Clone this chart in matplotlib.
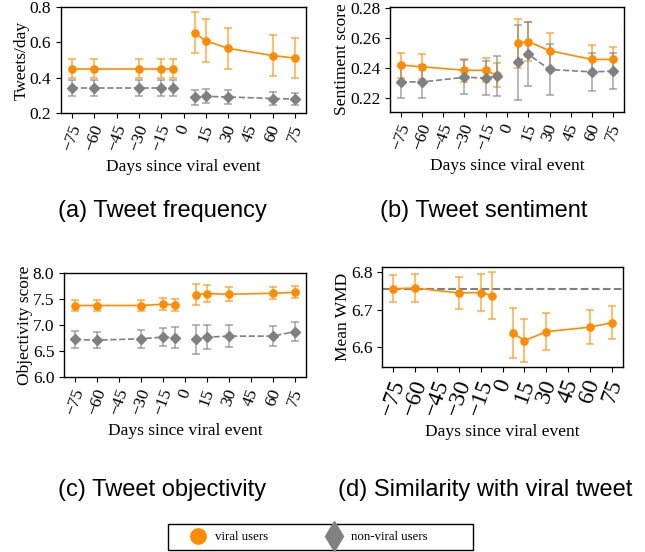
import matplotlib
matplotlib.use("Agg")
import matplotlib.pyplot as plt
from matplotlib.lines import Line2D
from matplotlib.patches import Rectangle

plt.rcParams["font.family"] = ["Liberation Serif", "DejaVu Serif"]
plt.rcParams["font.size"] = 12.5

# days relative to the viral event
days_pre = [-75, -60, -30, -15, -7]
days_post = [7.5, 15, 30, 60, 75]
xticks = list(range(-75, 76, 15))

# (a) tweet frequency
freq_viral_pre = [0.451, 0.451, 0.451, 0.451, 0.451]
freq_viral_pre_err = [0.053, 0.053, 0.053, 0.053, 0.053]
freq_viral_post = [0.653, 0.609, 0.566, 0.525, 0.511]
freq_viral_post_err = [0.116, 0.121, 0.115, 0.116, 0.115]
freq_non_pre = [0.341, 0.341, 0.341, 0.341, 0.341]
freq_non_pre_err = [0.047, 0.047, 0.047, 0.047, 0.047]
freq_non_post = [0.288, 0.294, 0.291, 0.282, 0.279]
freq_non_post_err = [0.040, 0.040, 0.040, 0.038, 0.036]

# (b) tweet sentiment
sent_viral_pre = [0.2418, 0.2407, 0.2384, 0.2383, 0.2350]
sent_viral_pre_err = [0.0083, 0.0084, 0.0077, 0.0080, 0.0080]
sent_viral_post = [0.2563, 0.2575, 0.2514, 0.2456, 0.2456]
sent_viral_post_err = [0.0163, 0.0132, 0.0117, 0.0096, 0.0086]
sent_non_pre = [0.2306, 0.2306, 0.2337, 0.2332, 0.2346]
sent_non_pre_err = [0.0108, 0.0110, 0.0112, 0.0116, 0.0135]
sent_non_post = [0.2436, 0.2490, 0.2389, 0.2373, 0.2378]
sent_non_post_err = [0.0252, 0.0212, 0.0168, 0.0125, 0.0118]

# (c) tweet objectivity
obj_viral_pre = [7.375, 7.375, 7.375, 7.400, 7.393]
obj_viral_pre_err = [0.112, 0.112, 0.112, 0.118, 0.115]
obj_viral_post = [7.585, 7.604, 7.591, 7.610, 7.629]
obj_viral_post_err = [0.198, 0.166, 0.138, 0.115, 0.112]
obj_non_pre = [6.722, 6.709, 6.735, 6.767, 6.754]
obj_non_pre_err = [0.167, 0.160, 0.169, 0.176, 0.204]
obj_non_post = [6.722, 6.767, 6.786, 6.786, 6.875]
obj_non_post_err = [0.281, 0.233, 0.211, 0.186, 0.176]

# (d) similarity with viral tweet (mean WMD)
wmd_pre = [6.756, 6.758, 6.745, 6.746, 6.738]
wmd_pre_err = [0.036, 0.037, 0.042, 0.050, 0.062]
wmd_post = [6.638, 6.618, 6.642, 6.654, 6.666]
wmd_post_err = [0.067, 0.058, 0.049, 0.045, 0.044]
wmd_viral_tweet = 6.756

orange = "#ff8c00"
grey = "#808080"

fig = plt.figure(figsize=(6.45, 5.52), dpi=100)
W, H = 645, 552


def add_ax(l, t, r, b):
    return fig.add_axes([l / W, 1 - b / H, (r - l) / W, (b - t) / H])


def series(ax, x, y, err, color, marker, ms, ls):
    ax.errorbar(x, y, yerr=err, color=color, marker=marker, ms=ms, ls=ls, lw=1.2,
                elinewidth=1.3, capsize=3, capthick=1.3, ecolor=color)
    for c in ax.containers[-1][2]:
        c.set_alpha(0.6)
    for c in ax.containers[-1][1]:
        c.set_alpha(0.6)


def both(ax, vpre, vpre_e, vpost, vpost_e, npre=None, npre_e=None, npost=None, npost_e=None):
    series(ax, days_pre, vpre, vpre_e, orange, "o", 5.2, "-")
    series(ax, days_post, vpost, vpost_e, orange, "o", 5.2, "-")
    if npre is not None:
        series(ax, days_pre, npre, npre_e, grey, "D", 4.8, "--")
        series(ax, days_post, npost, npost_e, grey, "D", 4.8, "--")


def style(ax, ylabel, xtick_size=12.5):
    ax.set_xticks(xticks)
    ax.set_xlim(-82.5, 82.5)
    ax.tick_params(axis="x", labelrotation=70, labelsize=xtick_size)
    ax.set_ylabel(ylabel, labelpad=0)
    ax.set_xlabel("Days since viral event")
    for s in ax.spines.values():
        s.set_linewidth(1.0)


ax_a = add_ax(61, 7, 306, 113)
both(ax_a, freq_viral_pre, freq_viral_pre_err, freq_viral_post, freq_viral_post_err,
     freq_non_pre, freq_non_pre_err, freq_non_post, freq_non_post_err)
ax_a.set_ylim(0.2, 0.8)
ax_a.set_yticks([0.2, 0.4, 0.6, 0.8])
style(ax_a, "Tweets/day")

ax_b = add_ax(390, 7, 624, 112)
both(ax_b, sent_viral_pre, sent_viral_pre_err, sent_viral_post, sent_viral_post_err,
     sent_non_pre, sent_non_pre_err, sent_non_post, sent_non_post_err)
ax_b.set_ylim(0.2106, 0.2805)
ax_b.set_yticks([0.22, 0.24, 0.26, 0.28])
style(ax_b, "Sentiment score")

ax_c = add_ax(64, 273, 306, 377)
both(ax_c, obj_viral_pre, obj_viral_pre_err, obj_viral_post, obj_viral_post_err,
     obj_non_pre, obj_non_pre_err, obj_non_post, obj_non_post_err)
ax_c.set_ylim(6.0, 8.0)
ax_c.set_yticks([6.0, 6.5, 7.0, 7.5, 8.0])
style(ax_c, "Objectivity score")

ax_d = add_ax(382, 267, 623, 367)
both(ax_d, wmd_pre, wmd_pre_err, wmd_post, wmd_post_err)
ax_d.axhline(wmd_viral_tweet, color=grey, ls="--", lw=1.5, zorder=0)
ax_d.set_ylim(6.548, 6.814)
ax_d.set_yticks([6.6, 6.7, 6.8])
style(ax_d, "Mean WMD", xtick_size=17)

cap = dict(family=["Liberation Sans", "DejaVu Sans"], fontsize=17, ha="center", va="center")
fig.text(162 / W, 1 - 211 / H, "(a) Tweet frequency", **cap)
fig.text(484 / W, 1 - 211 / H, "(b) Tweet sentiment", **cap)
fig.text(162 / W, 1 - 490 / H, "(c) Tweet objectivity", **cap)
fig.text(485 / W, 1 - 490 / H, "(d) Similarity with viral tweet", **cap)

# legend box
fig.patches.append(Rectangle((168 / W, 1 - 550 / H), 305 / W, 26 / H, transform=fig.transFigure,
                             fill=False, edgecolor="black", lw=1.0))
handles = [
    Line2D([], [], color=orange, marker="o", ms=11, ls="none"),
    Line2D([], [], color=grey, marker="d", ms=15, ls="none"),
]
fig.legend(handles, ["viral users", "non-viral users"], ncol=2, loc="center left",
           bbox_to_anchor=(183 / W, 1 - 537 / H), borderaxespad=0, fontsize=9.3,
           frameon=False, handlelength=1.5, handletextpad=0.6, columnspacing=4.3,
           borderpad=0.4)

fig.savefig("out.png", dpi=100)
